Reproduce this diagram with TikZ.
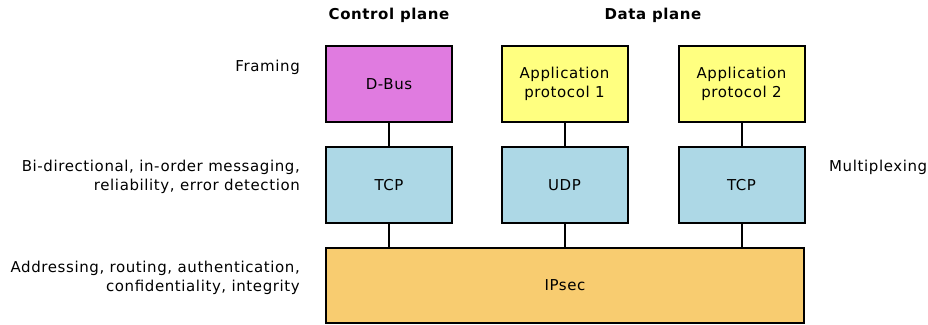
\documentclass[tikz,border=0pt]{standalone}
\usepackage{fontspec}
\setmainfont[LetterSpace=4]{DejaVu Sans}
\definecolor{dbus}{RGB}{224,123,224}
\definecolor{appy}{RGB}{255,255,128}
\definecolor{tpt}{RGB}{173,216,230}
\definecolor{ipsecc}{RGB}{248,204,112}
\begin{document}
\begin{tikzpicture}[x=1bp,y=-1bp,
  every node/.style={font=\fontsize{15bp}{19bp}\selectfont},
  layerbox/.style={draw=black,line width=2bp,minimum width=126bp,minimum height=76bp,inner sep=0pt,align=center,font=\fontsize{15bp}{19.5bp}\selectfont},
  desc/.style={align=right,anchor=east,inner sep=0pt},
  head/.style={font=\fontsize{15bp}{19bp}\selectfont\bfseries,inner sep=0pt},
  link/.style={line width=2bp}]
\useasboundingbox (0,0) rectangle (928,324);
\node[head] (cp) at (389,15) {Control plane};
\node[head] (dp) at (653,15) {Data plane};
\node[layerbox,fill=dbus] (dbus) at (389,84) {D-Bus};
\node[layerbox,fill=appy] (app1) at (564.5,84) {Application\\protocol 1};
\node[layerbox,fill=appy] (app2) at (741.5,84) {Application\\protocol 2};
\node[layerbox,fill=tpt] (tcp1) at (389,185) {TCP};
\node[layerbox,fill=tpt] (udp) at (564.5,185) {UDP};
\node[layerbox,fill=tpt] (tcp2) at (741.5,185) {TCP};
\node[layerbox,fill=ipsecc,minimum width=478bp,minimum height=75bp] (ipsec) at (565,285.5) {IPsec};
\draw[link] (dbus) -- (tcp1);
\draw[link] (app1) -- (udp);
\draw[link] (app2) -- (tcp2);
\draw[link] (tcp1.south) -- (tcp1.south |- ipsec.north);
\draw[link] (udp.south) -- (udp.south |- ipsec.north);
\draw[link] (tcp2.south) -- (tcp2.south |- ipsec.north);
\node[desc] (fr) at (300,67) {Framing};
\node[desc] (bd) at (300,177) {Bi-directional, in-order messaging,\\reliability, error detection};
\node[desc] (ad) at (300,278) {Addressing, routing, authentication,\\confidentiality, integrity};
\node[anchor=west,inner sep=0pt] (mx) at (829,167) {Multiplexing};
\end{tikzpicture}
\end{document}
